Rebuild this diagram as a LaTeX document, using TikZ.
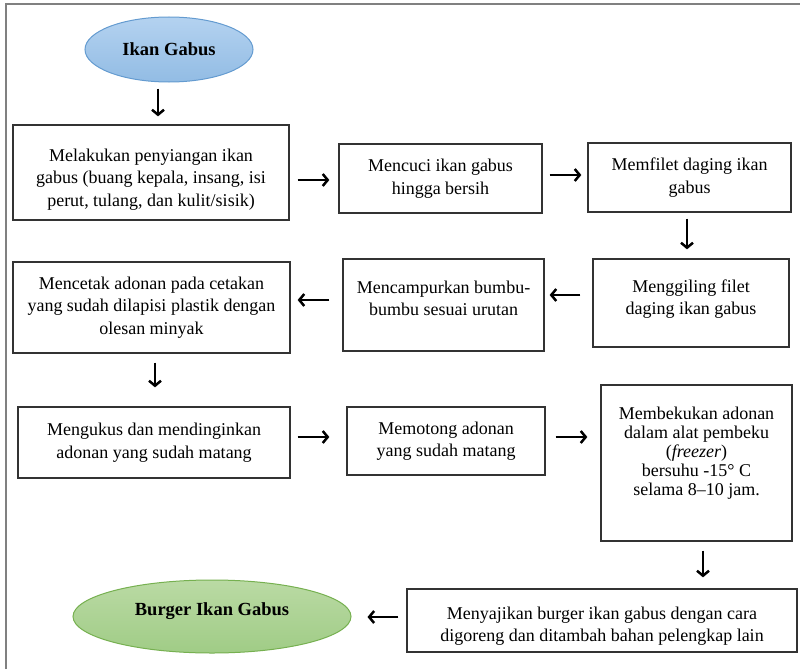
\documentclass[tikz,border=0pt]{standalone}
\usepackage{fontspec}
\setmainfont{Liberation Serif}
\usetikzlibrary{arrows.meta,shapes.geometric}
\definecolor{frameGray}{RGB}{128,128,128}
\definecolor{blueTop}{RGB}{180,210,240}
\definecolor{blueBot}{RGB}{146,188,228}
\definecolor{blueLine}{RGB}{100,155,208}
\definecolor{greenTop}{RGB}{186,218,164}
\definecolor{greenBot}{RGB}{160,204,134}
\definecolor{greenLine}{RGB}{118,176,80}
% invisible struts that move a node's text down or up inside its frame
\newcommand\padtop[1]{\rule{0pt}{#1}}
\newcommand\padbottom[1]{\rule[-#1]{0pt}{0pt}}
\begin{document}
\begin{tikzpicture}[x=1pt,y=-1pt,
  stepbox/.style={draw=black!80, line width=1.3pt, rectangle, align=center,
    font=\fontsize{18}{22.5}\selectfont, text=black, inner sep=0pt},
  terminal/.style={ellipse, line width=1pt, inner sep=0pt,
    font=\fontsize{18.5}{22}\selectfont\bfseries, text=black},
  arr/.style={draw=black, line width=2.5pt, -{Straight Barb[length=5pt,width=12pt]}}]
\useasboundingbox (0,0) rectangle (800,669);
\draw[frameGray, line width=2pt] (6,669) -- (6,4) -- (800,4);

% terminals
\node[terminal, draw=blueLine, top color=blueTop, bottom color=blueBot,
  minimum width=168pt, minimum height=65pt] (src) at (169,49.5) {Ikan Gabus};
\node[terminal, draw=greenLine, top color=greenTop, bottom color=greenBot,
  minimum width=278pt, minimum height=73pt] (dst) at (212,616.5)
  {Burger Ikan Gabus\padbottom{14pt}};

% process steps
\node[stepbox, minimum width=276pt, minimum height=95pt] (b1) at (151,172.5)
  {\padtop{26pt}Melakukan penyiangan ikan\\gabus (buang kepala, insang, isi\\perut, tulang, dan kulit/sisik)};
\node[stepbox, minimum width=203pt, minimum height=69pt] (b2) at (440.5,178.5)
  {Mencuci ikan gabus\\hingga bersih};
\node[stepbox, minimum width=203pt, minimum height=69pt] (b3) at (689.5,177.5)
  {Memfilet daging ikan\\gabus};
\node[stepbox, minimum width=196pt, minimum height=88pt] (b4) at (691,303)
  {Menggiling filet\\daging ikan gabus\padbottom{12pt}};
\node[stepbox, minimum width=201pt, minimum height=92pt] (b5) at (443.5,305)
  {Mencampurkan bumbu-\\bumbu sesuai urutan\padbottom{13pt}};
\node[stepbox, minimum width=277pt, minimum height=91pt] (b6) at (151.5,307.5)
  {Mencetak adonan pada cetakan\\yang sudah dilapisi plastik dengan\\olesan minyak};
\node[stepbox, minimum width=272pt, minimum height=71pt] (b7) at (154,442.5)
  {Mengukus dan mendinginkan\\adonan yang sudah matang};
\node[stepbox, minimum width=198pt, minimum height=68pt] (b8) at (446,441)
  {Memotong adonan\\yang sudah matang};
\node[stepbox, minimum width=191pt, minimum height=156pt,
  font=\fontsize{18}{19}\selectfont] (b9) at (696.5,463)
  {Membekukan adonan\\dalam alat pembeku\\(\textit{freezer})\\bersuhu -15° C\\selama 8–10 jam.\padbottom{24pt}};
\node[stepbox, minimum width=390pt, minimum height=63pt] (b10) at (602,620.5)
  {\padtop{24pt}Menyajikan burger ikan gabus dengan cara\\digoreng dan ditambah bahan pelengkap lain};

% flow arrows
\draw[arr, shorten <=6pt, shorten >=8pt] ([xshift=-11pt]src.south) -- ([xshift=7pt]b1.north);
\draw[arr, shorten <=8pt, shorten >=9pt] ([yshift=-7.5pt]b1.east) -- ([yshift=-1.5pt]b2.west);
\draw[arr, shorten <=7pt, shorten >=6pt] ([yshift=3.5pt]b2.east) -- ([yshift=2.5pt]b3.west);
\draw[arr, shorten <=6pt, shorten >=9pt] ([xshift=-2.5pt]b3.south) -- ([xshift=-4pt]b4.north);
\draw[arr, shorten <=12pt, shorten >=5pt] ([yshift=8pt]b4.west) -- ([yshift=10pt]b5.east);
\draw[arr, shorten <=13pt, shorten >=7pt] ([yshift=5pt]b5.west) -- ([yshift=7.5pt]b6.east);
\draw[arr, shorten <=9pt, shorten >=19pt] ([xshift=3.5pt]b6.south) -- ([xshift=1pt]b7.north);
\draw[arr, shorten <=7pt, shorten >=17pt] ([yshift=5.5pt]b7.east) -- ([yshift=4pt]b8.west);
\draw[arr, shorten <=10pt, shorten >=13pt] ([yshift=4pt]b8.east) -- ([yshift=26pt]b9.west);
\draw[arr, shorten <=9pt, shorten >=11pt] ([xshift=6.5pt]b9.south) -- ([xshift=101pt]b10.north);
\draw[arr, shorten <=8pt, shorten >=16pt] ([yshift=3.5pt]b10.west) -- ([yshift=-0.5pt]dst.east);
\end{tikzpicture}
\end{document}
